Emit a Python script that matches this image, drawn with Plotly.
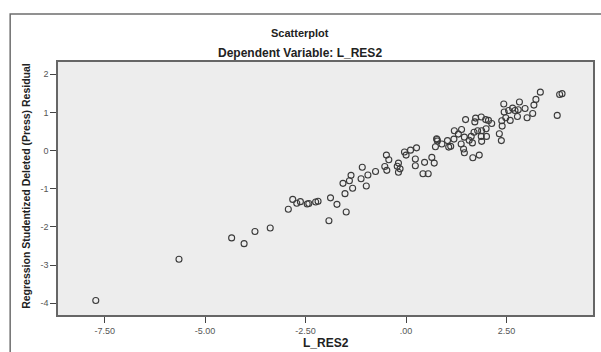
import plotly.graph_objects as go

l_res2 = [
    -7.72, -5.65, -4.34, -4.03, -3.76, -3.38, -2.93, -2.82, -2.72, -2.63,
    -2.46, -2.42, -2.25, -2.19, -1.92, -1.88, -1.72, -1.57, -1.49, -1.52,
    -1.41, -1.37, -1.33, -1.12, -1.09, -0.99, -0.95, -0.76, -0.53, -0.49,
    -0.48, -0.43, -0.22, -0.19, -0.15, -0.19, -0.04, 0.00, 0.11, 0.26,
    0.23, 0.23, 0.46, 0.42, 0.55, 0.64, 0.70, 0.73, 0.77, 0.78,
    0.76, 0.89, 1.03, 1.06, 1.11, 1.19, 1.20, 1.38, 1.30, 1.37,
    1.43, 1.45, 1.48, 1.73, 1.71, 1.87, 1.98, 2.05, 2.13, 1.99,
    1.88, 1.78, 1.69, 2.00, 1.87, 1.88, 1.62, 1.57, 1.45, 1.65,
    1.82, 1.66, 2.32, 2.37, 2.39, 2.38, 2.48, 2.59, 2.77, 3.01,
    3.15, 2.44, 2.43, 2.55, 2.65, 2.71, 2.79, 2.82, 2.96, 3.18,
    3.23, 3.34, 3.82, 3.88, 3.76,
]
press_residual = [
    -3.93, -2.85, -2.29, -2.44, -2.12, -2.03, -1.54, -1.28, -1.38, -1.34,
    -1.40, -1.39, -1.35, -1.33, -1.84, -1.24, -1.41, -0.86, -1.61, -1.13,
    -0.79, -0.65, -0.99, -0.74, -0.44, -0.93, -0.64, -0.55, -0.42, -0.12,
    -0.52, -0.24, -0.41, -0.33, -0.48, -0.57, -0.04, -0.12, 0.01, 0.07,
    -0.22, -0.40, -0.31, -0.61, -0.61, -0.18, -0.33, 0.10, 0.29, 0.25,
    0.31, 0.17, 0.26, 0.09, 0.11, 0.30, 0.52, 0.55, 0.43, 0.17,
    0.04, -0.06, 0.81, 0.85, 0.75, 0.88, 0.81, 0.79, 0.71, 0.57,
    0.52, 0.52, 0.48, 0.37, 0.37, 0.24, 0.37, 0.27, 0.35, 0.20,
    -0.12, -0.19, 0.44, 0.26, 0.64, 0.78, 0.86, 0.79, 0.89, 0.86,
    0.97, 1.01, 1.22, 1.05, 1.11, 1.05, 1.07, 1.27, 1.10, 1.19,
    1.34, 1.53, 1.47, 1.49, 0.92,
]

x_tickvals = [-7.5, -5.0, -2.5, 0.0, 2.5]
x_ticktext = ["-7.50", "-5.00", "-2.50", ".00", "2.50"]
y_tickvals = [2, 1, 0, -1, -2, -3, -4]
y_ticktext = ["2", "1", "0", "-1", "-2", "-3", "-4"]

FONT = "Liberation Sans, Arial, sans-serif"

fig = go.Figure()
fig.add_trace(go.Scatter(
    x=l_res2, y=press_residual, mode="markers",
    marker=dict(symbol="circle-open", size=6, color="#3a3a3a",
                line=dict(width=1.1, color="#3a3a3a")),
    hoverinfo="x+y", showlegend=False,
))

fig.update_layout(
    width=601, height=352,
    margin=dict(l=58, r=6, t=62, b=37),
    paper_bgcolor="white",
    plot_bgcolor="#ededed",
    font=dict(family=FONT, size=9, color="#555"),
    xaxis=dict(range=[-8.66, 4.65], tickvals=x_tickvals, ticktext=x_ticktext,
               showgrid=False, zeroline=False, ticks="outside", ticklen=6,
               tickcolor="#444", tickwidth=1, showline=True, linecolor="#666",
               linewidth=1.5, mirror=True, tickfont=dict(size=9, color="#555")),
    yaxis=dict(range=[-4.31, 2.32], tickvals=y_tickvals, ticktext=y_ticktext,
               showgrid=False, zeroline=False, ticks="outside", ticklen=6,
               tickcolor="#444", tickwidth=1, showline=True, linecolor="#666",
               linewidth=1.5, mirror=True, tickfont=dict(size=9, color="#555")),
    annotations=[
        dict(text="<b>Scatterplot</b>", xref="paper", yref="paper",
             x=0.452, y=1.115, xanchor="center", yanchor="middle",
             showarrow=False, font=dict(family=FONT, size=11, color="#222")),
        dict(text="<b>Dependent Variable: L_RES2</b>", xref="paper", yref="paper",
             x=0.452, y=1.036, xanchor="center", yanchor="middle",
             showarrow=False, font=dict(family=FONT, size=12, color="#222")),
        dict(text="<b>L_RES2</b>", xref="paper", yref="paper",
             x=0.5, y=-0.111, xanchor="center", yanchor="middle",
             showarrow=False, font=dict(family=FONT, size=12, color="#222")),
        dict(text="<b>Regression Studentized Deleted (Press) Residual</b>",
             xref="paper", yref="paper", x=-0.060, y=0.51, textangle=-90,
             xanchor="center", yanchor="middle", showarrow=False,
             font=dict(family="Liberation Sans Narrow, Liberation Sans, Arial", size=10.5, color="#222")),
    ],
    shapes=[
        dict(type="rect", xref="paper", yref="paper",
             x0=-0.0894, x1=1.3, y0=-0.6, y1=1.19,
             line=dict(color="#6e6e6e", width=1.5), fillcolor="rgba(0,0,0,0)",
             layer="below"),
    ],
)

fig.write_html("out.html", config={"displayModeBar": False},
               post_script="document.body.style.margin='0';document.body.style.overflow='hidden';")
